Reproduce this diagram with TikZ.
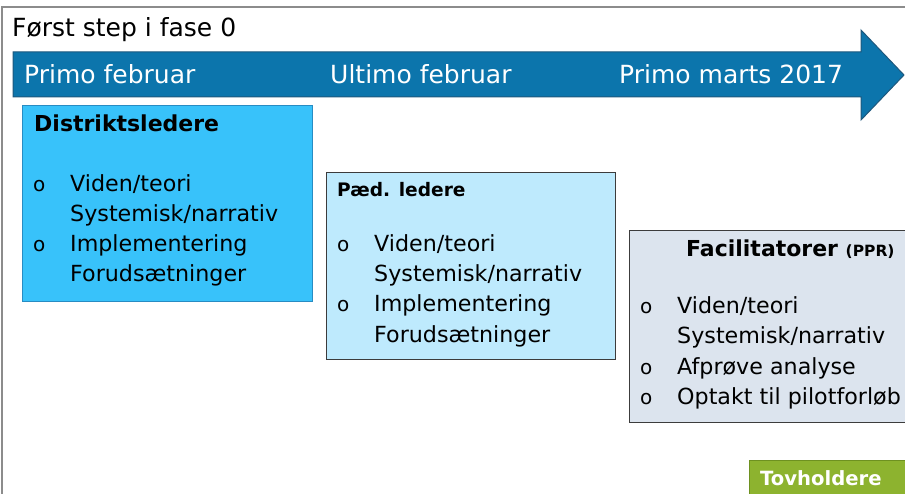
\documentclass[tikz,border=0pt]{standalone}
\usepackage{fontspec}
\setmainfont{DejaVu Sans}

\definecolor{framegray}{RGB}{140,140,140}
\definecolor{bandblue}{RGB}{12,117,172}
\definecolor{banddark}{RGB}{30,88,125}
\definecolor{distblue}{RGB}{56,194,250}
\definecolor{distedge}{RGB}{40,140,195}
\definecolor{paedblue}{RGB}{190,234,253}
\definecolor{facgray}{RGB}{220,228,238}
\definecolor{boxedge}{RGB}{60,60,60}
\definecolor{tovgreen}{RGB}{141,179,47}
\definecolor{tovedge}{RGB}{110,145,32}

\begin{document}
\begin{tikzpicture}[x=1pt, y=-1pt,
frame/.style={draw=framegray, line width=1.5pt},
band/.style={draw=banddark, fill=bandblue, line width=1pt},
datetext/.style={anchor=base west, inner sep=0pt, text=white, font=\fontsize{25}{29}\selectfont},
box/.style={anchor=north west, inner sep=0pt, line width=1pt},
boxtitle/.style={anchor=base west, inner sep=0pt, font=\bfseries\fontsize{22}{26}\selectfont},
item/.style={anchor=base west, inner sep=0pt, font=\fontsize{22.2}{26}\selectfont},
bul/.style={anchor=base west, inner sep=0pt, font=\fontsize{20}{23}\selectfont}]

%% local variables
\def \vm {30}

\useasboundingbox (0,0) rectangle (905,494);

%% frame and time band
\draw[frame] (2,494) -- (2,7) -- (905,7);
\draw[band] (13,52) -- (861,52) -- (861,30) -- (904,75) -- (861,120) -- (861,97) -- (13,97) -- cycle;

\node[anchor=base west, inner sep=0pt, font=\fontsize{25}{29}\selectfont] (fase) at (12,37) {Først step i fase 0};

%% dates on the band
\node[datetext] (feb-1) at (24,84) {Primo februar};
\node[datetext] (feb-2) at (330,84) {Ultimo februar};
\node[datetext] (mar-1) at (619,84) {Primo marts 2017};

%% boxes
\node[box, draw=distedge, fill=distblue, minimum width=290, minimum height=196] (D) at (22,105) {};
\node[box, draw=boxedge, fill=paedblue, minimum width=289, minimum height=187] (P) at (326,172) {};
\node[box, draw=boxedge, fill=facgray, minimum width=300, minimum height=192] (F) at (629,230) {};
\node[box, draw=tovedge, fill=tovgreen, minimum width=180, minimum height=50] (T) at (749,460) {};

%% box titles
\node[boxtitle] (D-t) at (34,132) {Distriktsledere};
\node[boxtitle, font=\bfseries\fontsize{18.6}{22}\selectfont] (P-t) at (337,197) {Pæd. ledere};
\node[boxtitle] (F-t) at (686,257) {Facilitatorer {\fontsize{15.5}{18}\selectfont(PPR)}};
\node[boxtitle, text=white, font=\bfseries\fontsize{19.6}{23}\selectfont] (T-t) at (760,485) {Tovholdere};

%% list lines
\foreach \t [count=\i from 0] in {Viden/teori, Systemisk/narrativ, Implementering, Forudsætninger}
{
      \node[item] (D-\i) at (70,{192 + \i * \vm}) {\t};
      \node[item] (P-\i) at (374,{252 + \i * \vm}) {\t};
}
\foreach \t [count=\i from 0] in {Viden/teori, Systemisk/narrativ, Afprøve analyse, Optakt til pilotforløb}
      \node[item] (F-\i) at (677,{314 + \i * \vm}) {\t};

%% bullets
\foreach \i in {0,2}
{
      \node[bul] (Db-\i) at (33,{192 + \i * \vm}) {o};
      \node[bul] (Pb-\i) at (337,{252 + \i * \vm}) {o};
}
\foreach \i in {0,2,3}
      \node[bul] (Fb-\i) at (640,{314 + \i * \vm}) {o};

\end{tikzpicture}
\end{document}
